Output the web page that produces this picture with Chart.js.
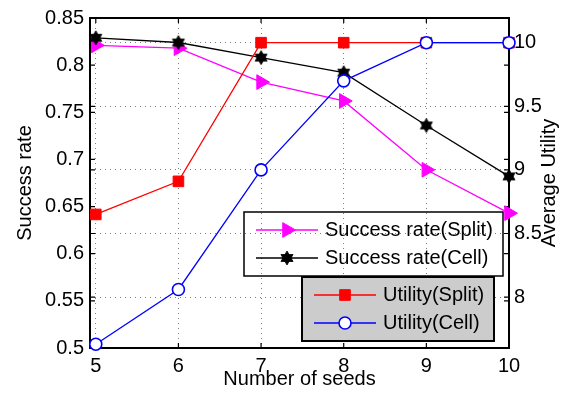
<!DOCTYPE html>
<html><head><meta charset="utf-8">
<script src="https://cdn.jsdelivr.net/npm/chart.js@4/dist/chart.umd.min.js"></script>
<style>html,body{margin:0;padding:0;background:#fff}#wrap{width:571px;height:396px;position:relative}</style>
</head><body><div id="wrap"><canvas id="c" width="571" height="396"></canvas></div>
<script>
// ---- data ----
const seeds = [5, 6, 7, 8, 9, 10];
const successSplit = [0.821, 0.818, 0.782, 0.762, 0.689, 0.643];
const successCell = [0.829, 0.824, 0.808, 0.792, 0.736, 0.682];
const utilitySplit = [8.65, 8.91, 10, 10, 10, 10];
const utilityCell = [7.63, 8.06, 9.0, 9.70, 10, 10];
const leftTicks = [0.5, 0.55, 0.6, 0.65, 0.7, 0.75, 0.8, 0.85];
const rightTicks = [8, 8.5, 9, 9.5, 10];
const xTicks = [5, 6, 7, 8, 9, 10];
const seriesNames = ['Success rate(Split)', 'Success rate(Cell)', 'Utility(Split)', 'Utility(Cell)'];

const FONT = "'Liberation Sans', Arial, Helvetica, sans-serif";
Chart.defaults.font.family = FONT;
Chart.defaults.font.size = 20;
Chart.defaults.color = '#000';

// hexagram marker
function makeHexagram(R, color) {
  const s = Math.ceil(R * 2 + 2);
  const cv = document.createElement('canvas');
  cv.width = s; cv.height = s;
  const g = cv.getContext('2d');
  const c = s / 2;
  g.fillStyle = color;
  g.strokeStyle = color;
  g.lineWidth = 0.8;
  [[-90, 30, 150], [90, 210, 330]].forEach(angs => {
    g.beginPath();
    angs.forEach((a, i) => {
      const r = a * Math.PI / 180;
      const px = c + R * Math.cos(r), py = c + R * Math.sin(r);
      if (i === 0) g.moveTo(px, py); else g.lineTo(px, py);
    });
    g.closePath();
    g.fill();
    g.stroke();
  });
  return cv;
}
const hexagram = makeHexagram(7, '#000');

const pts = (ys) => seeds.map((x, i) => ({x: x, y: ys[i]}));

const frameTicks = {
  id: 'frameTicks',
  beforeDatasetsDraw(chart) {
    const {ctx, chartArea: a, scales} = chart;
    ctx.save();
    ctx.strokeStyle = '#000';
    ctx.lineWidth = 1.2;
    const L = 5;
    ctx.beginPath();
    leftTicks.forEach(v => {
      const y = scales.y.getPixelForValue(v);
      ctx.moveTo(a.left, y); ctx.lineTo(a.left + L, y);
      ctx.moveTo(a.right, y); ctx.lineTo(a.right - L, y);
    });
    rightTicks.forEach(v => {
      const y = scales.y1.getPixelForValue(v);
      ctx.moveTo(a.right, y); ctx.lineTo(a.right - L, y);
      ctx.moveTo(a.left, y); ctx.lineTo(a.left + L, y);
    });
    xTicks.forEach(v => {
      const x = scales.x.getPixelForValue(v);
      ctx.moveTo(x, a.bottom); ctx.lineTo(x, a.bottom - L);
      ctx.moveTo(x, a.top); ctx.lineTo(x, a.top + L);
    });
    ctx.stroke();
    ctx.lineWidth = 2;
    ctx.strokeRect(a.left, a.top, a.right - a.left, a.bottom - a.top);
    ctx.restore();
  },
  afterDraw(chart) {
    const {ctx} = chart;
    ctx.save();
    // right axis title
    ctx.font = '20px ' + FONT;
    ctx.fillStyle = '#000';
    ctx.textAlign = 'center';
    ctx.textBaseline = 'middle';
    ctx.translate(549, 183);
    ctx.rotate(-Math.PI / 2);
    ctx.fillText('Average Utility', 0, 0);
    ctx.restore();

    // legends
    const ds = chart.data.datasets;
    function sample(x1, x2, y, d) {
      ctx.save();
      ctx.strokeStyle = d.borderColor;
      ctx.lineWidth = 1.3;
      ctx.beginPath(); ctx.moveTo(x1, y); ctx.lineTo(x2, y); ctx.stroke();
      const cx = (x1 + x2) / 2;
      ctx.fillStyle = d.pointBackgroundColor;
      ctx.strokeStyle = d.pointBorderColor;
      ctx.lineWidth = d.pointBorderWidth || 1;
      Chart.helpers.drawPoint(ctx, {
        pointStyle: d.pointStyle, radius: d.pointRadius, rotation: d.pointRotation || 0,
        borderWidth: d.pointBorderWidth || 1
      }, cx, y);
      ctx.restore();
    }
    function text(t, x, y) {
      ctx.save();
      ctx.font = '20px ' + FONT;
      ctx.fillStyle = '#000';
      ctx.textAlign = 'left';
      ctx.textBaseline = 'middle';
      ctx.fillText(t, x, y);
      ctx.restore();
    }
    // legend 1 (transparent, border only)
    ctx.save();
    ctx.strokeStyle = '#000'; ctx.lineWidth = 1.5;
    ctx.strokeRect(244, 212, 259, 64);
    ctx.restore();
    sample(256, 318, 230, ds[0]); text(seriesNames[0], 325, 230);
    sample(256, 318, 258, ds[1]); text(seriesNames[1], 325, 258);
    // legend 2 (gray)
    ctx.save();
    ctx.fillStyle = '#cccccc';
    ctx.fillRect(302, 277, 192, 64);
    ctx.strokeStyle = '#000'; ctx.lineWidth = 2;
    ctx.strokeRect(302, 277, 192, 64);
    ctx.restore();
    sample(314, 376, 295, ds[2]); text(seriesNames[2], 383, 295);
    sample(314, 376, 323, ds[3]); text(seriesNames[3], 383, 323);
  }
};

new Chart(document.getElementById('c'), {
  type: 'line',
  data: {
    datasets: [
      {label: seriesNames[0], data: pts(successSplit), yAxisID: 'y', order: 4,
       borderColor: '#ff00ff', backgroundColor: '#ff00ff', borderWidth: 1.3,
       pointStyle: 'triangle', pointRotation: 90, pointRadius: 8.5,
       pointBackgroundColor: '#ff00ff', pointBorderColor: '#ff00ff', pointBorderWidth: 1},
      {label: seriesNames[1], data: pts(successCell), yAxisID: 'y', order: 3,
       borderColor: '#000000', backgroundColor: '#000000', borderWidth: 1.3,
       pointStyle: hexagram, pointRadius: 7,
       pointBackgroundColor: '#000', pointBorderColor: '#000', pointBorderWidth: 1},
      {label: seriesNames[2], data: pts(utilitySplit), yAxisID: 'y1', order: 2,
       borderColor: '#ff0000', backgroundColor: '#ff0000', borderWidth: 1.3,
       pointStyle: 'rect', pointRadius: 7.5,
       pointBackgroundColor: '#ff0000', pointBorderColor: '#ff0000', pointBorderWidth: 1},
      {label: seriesNames[3], data: pts(utilityCell), yAxisID: 'y1', order: 1,
       borderColor: '#0000ff', backgroundColor: '#ffffff', borderWidth: 1.3,
       pointStyle: 'circle', pointRadius: 6,
       pointBackgroundColor: '#ffffff', pointBorderColor: '#0000ff', pointBorderWidth: 1.6}
    ]
  },
  options: {
    responsive: false,
    animation: false,
    devicePixelRatio: 1,
    layout: {padding: {top: 12, left: 0, right: 0, bottom: 0}},
    elements: {line: {tension: 0, fill: false}},
    datasets: {line: {clip: false}},
    plugins: {legend: {display: false}, tooltip: {enabled: false}},
    scales: {
      x: {
        type: 'linear', position: 'bottom', min: 4.93, max: 10,
        afterBuildTicks: s => { s.ticks = xTicks.map(v => ({value: v})); },
        afterFit: s => { s.height = 48; },
        ticks: {padding: 6, callback: v => String(v), font: {size: 20}},
        grid: {display: true, color: 'rgba(0,0,0,0.5)', lineWidth: 1, drawTicks: false},
        border: {display: false, dash: [1, 4]},
        title: {display: true, text: 'Number of seeds', font: {size: 20}, padding: {top: 0, bottom: 5}}
      },
      y: {
        position: 'left', min: 0.5, max: 0.85,
        afterBuildTicks: s => { s.ticks = leftTicks.map(v => ({value: v})); },
        afterFit: s => { s.width = 90; },
        ticks: {padding: 6, callback: v => String(v), font: {size: 20}},
        grid: {display: false, drawTicks: false},
        border: {display: false},
        title: {display: true, text: 'Success rate', font: {size: 20}, padding: {top: 13, bottom: 0}}
      },
      y1: {
        position: 'right', min: 7.6, max: 10.194,
        afterBuildTicks: s => { s.ticks = rightTicks.map(v => ({value: v})); },
        afterFit: s => { s.width = 62; },
        ticks: {padding: 5, callback: v => String(v), font: {size: 20}},
        grid: {display: true, drawOnChartArea: true, color: 'rgba(0,0,0,0.5)', lineWidth: 1, drawTicks: false},
        border: {display: false, dash: [1, 4]}
      }
    }
  },
  plugins: [frameTicks]
});
</script>
</body></html>
